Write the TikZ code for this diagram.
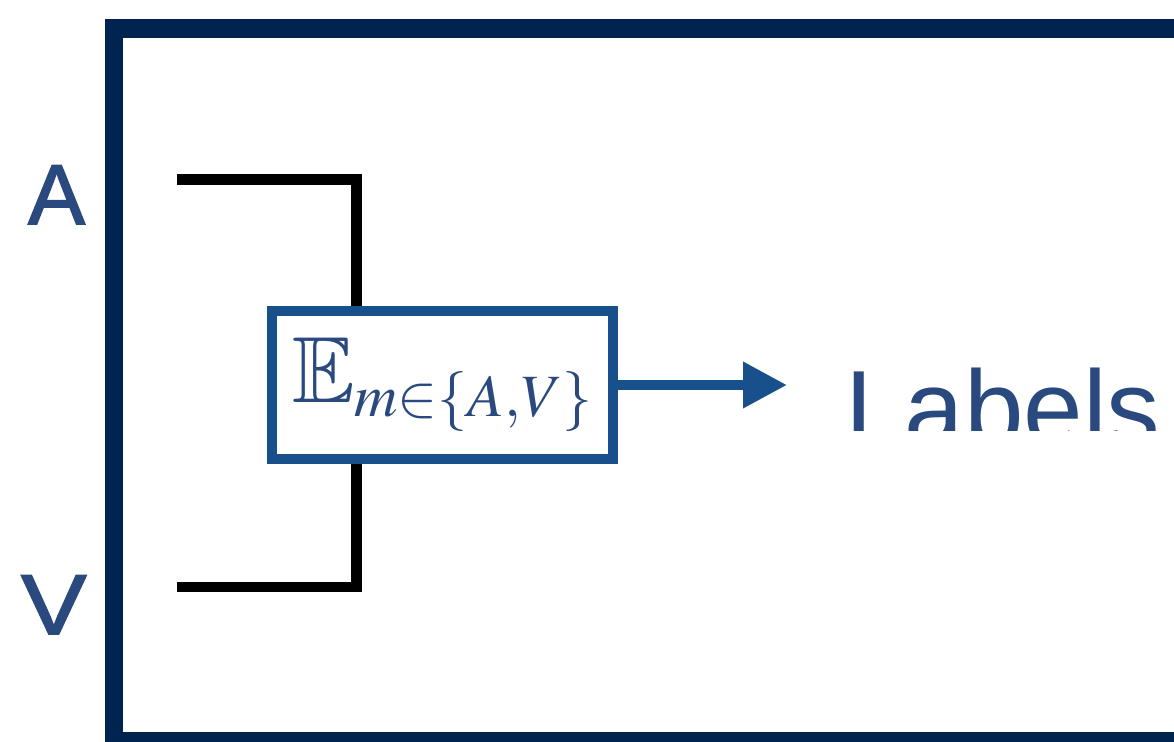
\documentclass[tikz,border=0pt]{standalone}
\usepackage{amssymb}
\usepackage{mathptmx}
\usepackage{fontspec}
\setsansfont{Liberation Sans}
\newfontfamily\modfont[FakeBold=2]{Liberation Sans}
\DeclareMathSizes{94}{94}{60}{47}
\usetikzlibrary{arrows.meta}
\definecolor{navy}{RGB}{0,36,80}
\definecolor{txtblue}{RGB}{42,74,127}
\definecolor{boxblue}{RGB}{23,80,138}
\tikzset{
  frameline/.style={draw=navy,line width=18.5pt},
  bracketline/.style={draw=black,line width=10.5pt,line join=miter},
  ebox/.style={draw=boxblue,line width=9.5pt,fill=white,inner sep=0pt,
    minimum width=341pt,minimum height=148pt,text=txtblue},
  flow/.style={draw=boxblue,line width=10pt,-{Triangle[length=44pt,width=44pt]}},
  modlabel/.style={text=txtblue,inner sep=0pt,font=\modfont\fontsize{85}{85}\selectfont},
  biglabel/.style={text=txtblue,inner sep=0pt,font=\sffamily\fontsize{107}{107}\selectfont}
}
\begin{document}
\begin{tikzpicture}[x=1pt,y=-1pt]
\useasboundingbox (0,0) rectangle (1174,741);
\clip (0,0) rectangle (1174,741);
% frame
\draw[frameline] (114,28.5) rectangle (1300,741);
% modality letters
\node[modlabel,anchor=base west] (labA) at (28,224) {A};
\node[modlabel,anchor=base west] (labV) at (21,634) {\scalebox{1.15}[1]{V}};
% bracket
\coordinate (a0) at (177,179.5);
\coordinate (v0) at (177,587);
\coordinate (a1) at (356.5,179.5);
\coordinate (v1) at (356.5,587);
\draw[bracketline] (a0) -- (a1) -- (v1) -- (v0);
% expectation box
\node[ebox] (E) at (442.5,385) {\raisebox{8pt}{\fontsize{94}{94}\selectfont$\mathbb{E}_{m\in\{A,V\}}$}};
% arrow
\coordinate (tip) at (787,385);
\draw[flow] (E.east) -- (tip);
% Labels (clipped)
\begin{scope}
\clip (800,0) rectangle (1174,430);
\node[biglabel,anchor=base west] (labels) at (845,445) {Labels};
\end{scope}
\end{tikzpicture}
\end{document}
